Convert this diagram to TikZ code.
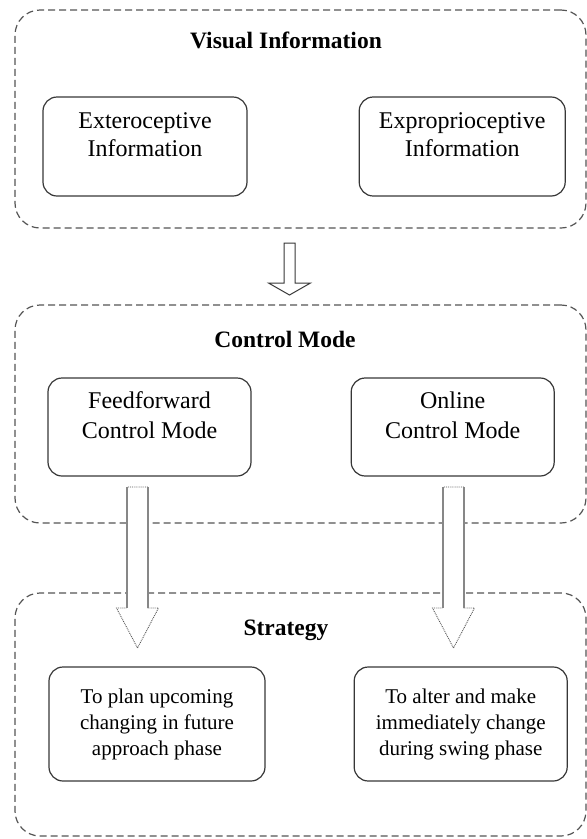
\documentclass[tikz,border=0pt]{standalone}
\usepackage{fontspec}
\setmainfont{Liberation Serif}
\usepackage{tikz}
\usetikzlibrary{positioning}
\usepackage{xcolor}
\definecolor{grpgray}{RGB}{85,85,85}
\definecolor{boxgray}{RGB}{55,55,55}
\definecolor{arrgray}{RGB}{135,135,135}
\tikzstyle{group} = [rectangle, rounded corners=25pt, draw=grpgray, line width=1.2pt, dash pattern=on 7pt off 4pt]
\tikzstyle{grouptitle} = [font=\fontsize{23.5}{28}\selectfont\bfseries]
\tikzstyle{infobox} = [rectangle, rounded corners=14pt, draw=boxgray, line width=1.2pt, align=center, font=\fontsize{24}{28}\selectfont, text depth=24pt]
\tikzstyle{modebox} = [infobox, font=\fontsize{24}{30}\selectfont, text depth=23pt]
\tikzstyle{stratbox} = [rectangle, rounded corners=14pt, draw=boxgray, line width=1.2pt, align=center, font=\fontsize{21}{26}\selectfont]
\tikzstyle{blockarrow} = [fill=white, draw=boxgray, line width=1pt]
\tikzstyle{lightarrow} = [fill=white, draw=grpgray, line width=0.9pt, densely dotted]
\tikzstyle{lightshaft} = [draw=arrgray, line width=1.2pt]
% hollow arrow pointing down: style, start, shaft half width, shaft length, head half width, head length
\newcommand{\downblock}[6]{%
  \draw[#1] (#2) ++(-#3,0) -- ++(0,#4) -- ++({#3-#5},0) -- ++(#5,#6) -- ++(#5,-#6) -- ++({#3-#5},0) -- ++(0,-#4) -- cycle;}

\begin{document}
\begin{tikzpicture}[x=1pt, y=-1pt]
\useasboundingbox (0,0) rectangle (587,839);

% Groups
\node (vis) [group, minimum width=571pt, minimum height=218pt] at (300.5,119) {};
\node (ctrl) [group, minimum width=571pt, minimum height=218pt] at (300.5,414) {};
\node (strat) [group, minimum width=571pt, minimum height=243pt] at (300.5,714.5) {};

\node (vistitle) [grouptitle] at (286,40) {Visual Information};
\node (ctrltitle) [grouptitle] at (285,339) {Control Mode};
\node (strattitle) [grouptitle] at (286,630.5) {Strategy};

% Boxes inside the groups
\node (ext) [infobox, minimum width=204pt, minimum height=99pt] at (145,146.5) {Exteroceptive\\Information};
\node (exp) [infobox, right=111pt of ext, minimum width=206pt, minimum height=99pt] {Exproprioceptive\\Information};

\node (ff) [modebox, minimum width=203pt, minimum height=98pt] at (149.5,427) {Feedforward\\Control Mode};
\node (onl) [modebox, right=99pt of ff, minimum width=203pt, minimum height=98pt] {Online\\Control Mode};

\node (plan) [stratbox, minimum width=216pt, minimum height=114pt] at (157,724) {To plan upcoming\\changing in future\\approach phase};
\node (alter) [stratbox, right=88pt of plan, minimum width=213pt, minimum height=114pt] {To alter and make\\immediately change\\during swing phase};

% Arrows
\coordinate (visout) at (289.5,243);
\coordinate (ffout) at (137.5,487);
\coordinate (onlout) at (453.5,487);
\downblock{blockarrow}{visout}{5.5}{40}{21}{12}
\downblock{lightarrow}{ffout}{10.5}{121}{21}{40}
\downblock{lightarrow}{onlout}{10.5}{121}{21}{40}
\draw[lightshaft] (ffout) ++(-10.5,0) -- ++(0,121) (ffout) ++(10.5,0) -- ++(0,121);
\draw[lightshaft] (onlout) ++(-10.5,0) -- ++(0,121) (onlout) ++(10.5,0) -- ++(0,121);
\end{tikzpicture}
\end{document}
